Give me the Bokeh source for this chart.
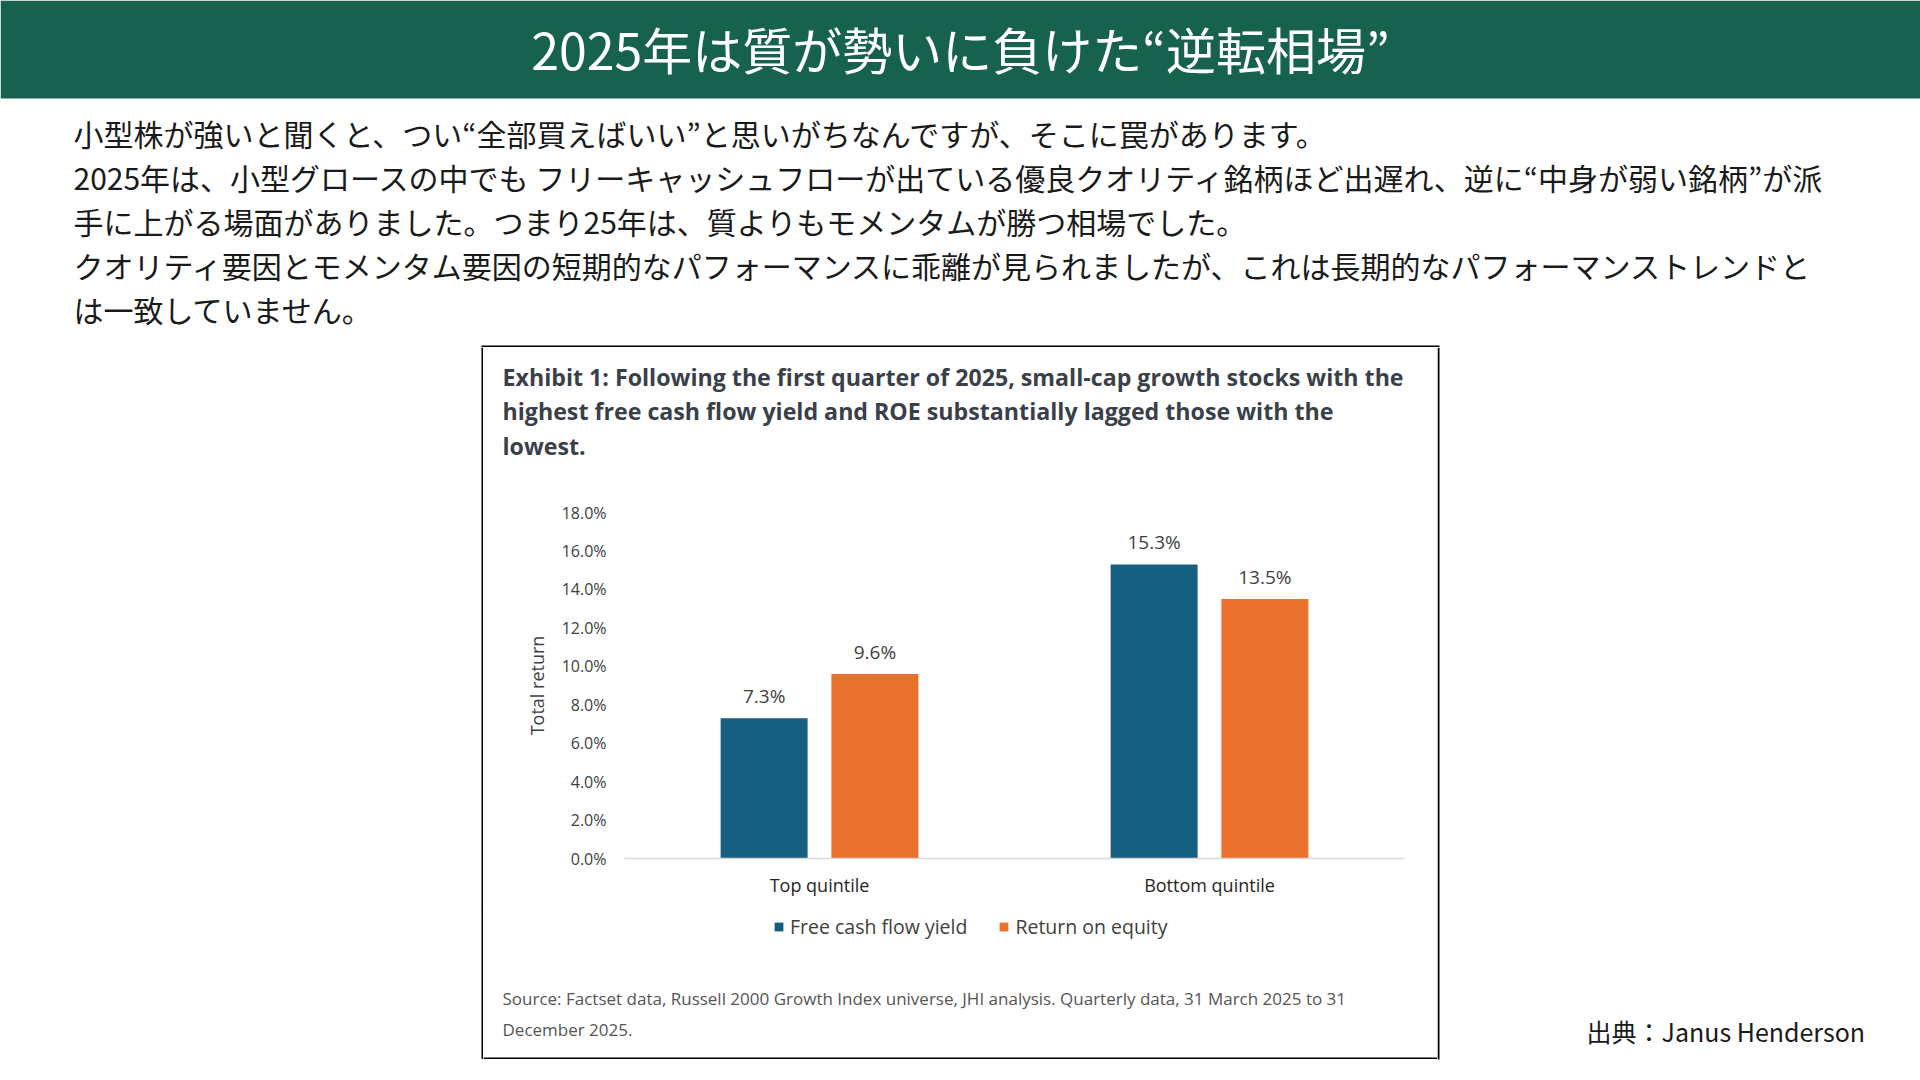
from bokeh.plotting import figure
from bokeh.layouts import column, row
from bokeh.models import (ColumnDataSource, FactorRange, Range1d, FixedTicker, PrintfTickFormatter)
from bokeh.transform import dodge
from bokeh.core.properties import value
from bokeh.embed import file_html
from bokeh.resources import INLINE

# ---------------- data ----------------
categories = ["Top quintile", "Bottom quintile"]
series_names = ["Free cash flow yield", "Return on equity"]
fcf_yield = [7.3, 15.3]
roe = [9.6, 13.5]
y_ticks = [0, 2, 4, 6, 8, 10, 12, 14, 16, 18]

page_title = "2025年は質が勢いに負けた“逆転相場”"
body_lines = [
    "小型株が強いと聞くと、つい“全部買えばいい”と思いがちなんですが、そこに罠があります。",
    "2025年は、小型グロースの中でも フリーキャッシュフローが出ている優良クオリティ銘柄ほど出遅れ、逆に“中身が弱い銘柄”が派",
    "手に上がる場面がありました。つまり25年は、質よりもモメンタムが勝つ相場でした。",
    "クオリティ要因とモメンタム要因の短期的なパフォーマンスに乖離が見られましたが、これは長期的なパフォーマンストレンドと",
    "は一致していません。",
]
chart_title_lines = [
    "Exhibit 1: Following the first quarter of 2025, small-cap growth stocks with the",
    "highest free cash flow yield and ROE substantially lagged those with the",
    "lowest.",
]
source_lines = [
    "Source: Factset data, Russell 2000 Growth Index universe, JHI analysis. Quarterly data, 31 March 2025 to 31",
    "December 2025.",
]
credit = "出典：Janus Henderson"

# ---------------- style ----------------
BLUE = "#165f81"
ORANGE = "#e8712f"
GREEN = "#17614f"
JP = "Noto Sans CJK JP"
EN = "Open Sans"
AX = "#404040"


def no_align(f):
    try:
        f.frame_align = False
    except Exception:
        pass


def canvas_fig(w, h):
    f = figure(width=w, height=h, x_range=Range1d(0, w), y_range=Range1d(h, 0),
               output_backend="svg", toolbar_location=None,
               x_axis_location=None, y_axis_location=None, min_border=0)
    f.outline_line_color = None
    f.background_fill_color = "white"
    f.border_fill_color = "white"
    for g in f.grid:
        g.visible = False
    no_align(f)
    return f


# ---------------- top: header + body text ----------------
top = canvas_fig(1920, 347)
top.quad(left=[0], right=[1920], top=[0], bottom=[98], fill_color=GREEN, line_color=None)
top.text(x=[960], y=[47], text=[page_title], text_font=value(JP), text_font_size="50px",
         text_color="white", text_align="center", text_baseline="middle")
top.text(x=[73] * len(body_lines), y=[132 + 44 * i for i in range(len(body_lines))], text=body_lines,
         text_font=value(JP), text_font_size="30px", text_color="#1a1a1a",
         text_align="left", text_baseline="middle")
top.quad(left=[481], right=[1439], top=[345], bottom=[347], fill_color="black", line_color=None)

# ---------------- side strips ----------------
left = canvas_fig(483, 712)
left.quad(left=[481], right=[483], top=[0], bottom=[712], fill_color="black", line_color=None)

right = canvas_fig(483, 733)
right.quad(left=[0], right=[2], top=[0], bottom=[712], fill_color="black", line_color=None)
right.text(x=[149], y=[683], text=[credit], text_font=value(JP), text_font_size="25px",
           text_color="#1a1a1a", text_align="left", text_baseline="middle")

# ---------------- chart title ----------------
ttl = canvas_fig(954, 131)
ttl.text(x=[19] * len(chart_title_lines), y=[29 + 34.8 * i for i in range(len(chart_title_lines))],
         text=chart_title_lines, text_font=value(EN), text_font_size="23.2px", text_font_style="bold",
         text_color="#3b3f4a", text_align="left", text_baseline="middle")

# ---------------- bar chart ----------------
p = figure(width=954, height=430, x_range=FactorRange(*categories, range_padding=0),
           y_range=Range1d(0, 18), output_backend="svg", toolbar_location=None,
           min_border_left=141, min_border_right=33, min_border_top=34, min_border_bottom=50)
no_align(p)
p.outline_line_color = None
p.background_fill_color = "white"
p.border_fill_color = "white"
p.xgrid.grid_line_color = None
p.ygrid.grid_line_color = None

src_a = ColumnDataSource(dict(cat=categories, val=fcf_yield, lbl=[f"{v:.1f}%" for v in fcf_yield]))
src_b = ColumnDataSource(dict(cat=categories, val=roe, lbl=[f"{v:.1f}%" for v in roe]))

off, bw = 0.142, 0.223
p.vbar(x=dodge("cat", -off, range=p.x_range), top="val", width=bw, source=src_a,
       fill_color=BLUE, line_color=None)
p.vbar(x=dodge("cat", off, range=p.x_range), top="val", width=bw, source=src_b,
       fill_color=ORANGE, line_color=None)
for s, o in ((src_a, -off), (src_b, off)):
    p.text(x=dodge("cat", o, range=p.x_range), y="val", text="lbl", source=s,
           text_align="center", text_baseline="bottom", y_offset=-9,
           text_font=value(EN), text_font_size="19px", text_color=AX)

p.yaxis.ticker = FixedTicker(ticks=y_ticks)
p.yaxis.formatter = PrintfTickFormatter(format="%.1f%%")
p.yaxis.axis_line_color = None
p.yaxis.major_tick_line_color = None
p.yaxis.minor_tick_line_color = None
p.yaxis.major_tick_out = 0
p.yaxis.major_tick_in = 0
p.yaxis.major_label_text_font = EN
p.yaxis.major_label_text_font_size = "16px"
p.yaxis.major_label_text_color = AX
p.yaxis.major_label_standoff = 18
p.yaxis.axis_label = "Total return"
p.yaxis.axis_label_text_font = EN
p.yaxis.axis_label_text_font_style = "normal"
p.yaxis.axis_label_text_font_size = "18px"
p.yaxis.axis_label_text_color = AX
p.yaxis.axis_label_standoff = 10

p.xaxis.axis_line_color = "#d9d9d9"
p.xaxis.axis_line_width = 1.5
p.xaxis.major_tick_line_color = None
p.xaxis.minor_tick_line_color = None
p.xaxis.major_tick_out = 0
p.xaxis.major_tick_in = 0
p.xaxis.major_label_text_font = EN
p.xaxis.major_label_text_font_size = "18px"
p.xaxis.major_label_text_color = "#262626"
p.xaxis.major_label_standoff = 14

# ---------------- legend + source ----------------
bot = canvas_fig(954, 151)
# legend keys only (kept outside the visible range)
bot.vbar(x=[-1000], top=[-1000], bottom=[-2000], width=1, fill_color=BLUE, line_color=None,
         legend_label=series_names[0])
bot.vbar(x=[-1000], top=[-1000], bottom=[-2000], width=1, fill_color=ORANGE, line_color=None,
         legend_label=series_names[1])
lg = bot.legend[0]
lg.orientation = "horizontal"
lg.location = (290, 119)
lg.label_text_font = EN
lg.label_text_font_size = "19.5px"
lg.label_text_color = AX
lg.glyph_width = 11
lg.glyph_height = 11
lg.label_standoff = 6
lg.spacing = 31
lg.padding = 0
lg.margin = 0
lg.border_line_color = None
lg.background_fill_alpha = 0
bot.text(x=[19] * len(source_lines), y=[90 + 31 * i for i in range(len(source_lines))], text=source_lines,
         text_font=value(EN), text_font_size="17px", text_color="#555555",
         text_align="left", text_baseline="middle")
bot.quad(left=[0], right=[954], top=[149], bottom=[151], fill_color="black", line_color=None)

layout = column(top, row(left, column(ttl, p, bot), right))

open("out.html", "w").write(file_html(layout, INLINE))
